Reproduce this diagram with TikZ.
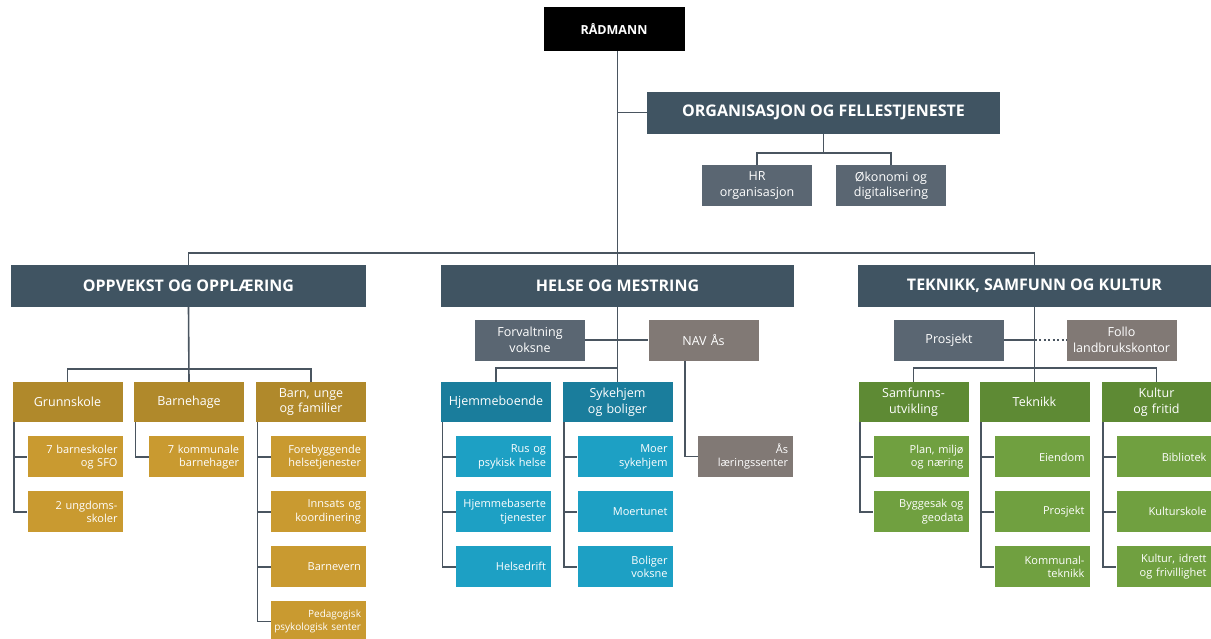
\documentclass[tikz,border=0pt]{standalone}
\usepackage{fontspec}
\setmainfont{Open Sans}
\usetikzlibrary{positioning}

\definecolor{slate}{HTML}{405462}
\definecolor{staffgrey}{HTML}{5A6672}
\definecolor{taupe}{HTML}{817975}
\definecolor{golddark}{HTML}{B0892B}
\definecolor{goldlight}{HTML}{C99A30}
\definecolor{tealdark}{HTML}{1A7D9C}
\definecolor{teallight}{HTML}{1DA0C4}
\definecolor{greendark}{HTML}{5E8A34}
\definecolor{greenlight}{HTML}{70A040}
\definecolor{wire}{HTML}{4A5560}

\begin{document}
\begin{tikzpicture}[x=1pt, y=-1pt, node distance=13.5pt,
    wire/.style={draw=wire, line width=1.6pt},
    box/.style={text=white, inner sep=0pt, align=center},
    chief/.style={box, fill=black, minimum width=141, minimum height=44,
      font=\bfseries\fontsize{12.5}{15}\selectfont},
    sector/.style={box, fill=slate, minimum width=353, minimum height=42,
      font=\bfseries\fontsize{16}{19}\selectfont},
    staff/.style={box, fill=staffgrey, minimum width=110, minimum height=41,
      text width=104, font=\fontsize{12.5}{15.5}\selectfont},
    partner/.style={staff, fill=taupe},
    unit/.style={box, minimum width=110, minimum height=40, text width=104,
      font=\fontsize{12.5}{15.5}\selectfont},
    subunit/.style={box, align=right, minimum width=95, minimum height=41,
      text width=85, font=\fontsize{11}{13.5}\selectfont},
  ]
  \useasboundingbox (0,0) rectangle (1211,638);

  % top
  \node (rad) [chief] at (614,29) {RÅDMANN};
  \node (org) [sector] at (823.5,112.5) {ORGANISASJON OG FELLESTJENESTE};
  \node (hr) [staff] at (757,185.5) {HR\\organisasjon};
  \node (oko) [staff] at (891,185.5) {Økonomi og\\digitalisering};

  % sectors
  \node (opp) [sector, minimum width=355] at (188.5,286) {OPPVEKST OG OPPLÆRING};
  \node (hel) [sector] at (617.5,286) {HELSE OG MESTRING};
  \node (tek) [sector] at (1034.5,286) {TEKNIKK, SAMFUNN OG KULTUR};

  % oppvekst og opplaering
  \node (grunn) [unit, fill=golddark] at (67.5,402) {Grunnskole};
  \node (bhage) [unit, fill=golddark] at (189,402) {Barnehage};
  \node (barn) [unit, fill=golddark] at (311,402) {Barn, unge\\og familier};
  \node (grunn1) [subunit, fill=goldlight, below=14pt of grunn.south east, anchor=north east] {7 barneskoler\\og SFO};
  \node (grunn2) [subunit, fill=goldlight, below=of grunn1] {2 ungdoms-\\skoler};
  \node (bhage1) [subunit, fill=goldlight, below=14pt of bhage.south east, anchor=north east] {7 kommunale\\barnehager};
  \node (barn1) [subunit, fill=goldlight, below=14pt of barn.south east, anchor=north east] {Forebyggende\\helsetjenester};
  \node (barn2) [subunit, fill=goldlight, below=of barn1] {Innsats og\\koordinering};
  \node (barn3) [subunit, fill=goldlight, below=of barn2] {Barnevern};
  \node (barn4) [subunit, fill=goldlight, below=of barn3, font=\fontsize{10}{13}\selectfont] {Pedagogisk\\\makebox[\linewidth][r]{psykologisk senter}};

  % helse og mestring
  \node (forv) [staff] at (530,340) {Forvaltning\\voksne};
  \node (nav) [partner] at (703.5,340) {NAV Ås};
  \node (hjem) [unit, fill=tealdark] at (496,402) {Hjemmeboende};
  \node (syk) [unit, fill=tealdark] at (617.5,402) {Sykehjem\\og boliger};
  \node (hjem1) [subunit, fill=teallight, below=14pt of hjem.south east, anchor=north east] {Rus og\\psykisk helse};
  \node (hjem2) [subunit, fill=teallight, below=of hjem1] {Hjemmebaserte\\tjenester};
  \node (hjem3) [subunit, fill=teallight, below=of hjem2] {Helsedrift};
  \node (syk1) [subunit, fill=teallight, below=14pt of syk.south east, anchor=north east] {Moer\\sykehjem};
  \node (syk2) [subunit, fill=teallight, below=of syk1] {Moertunet};
  \node (syk3) [subunit, fill=teallight, below=of syk2] {Boliger\\voksne};
  \node (aas) [subunit, fill=taupe] at (745.5,456.5) {Ås\\læringssenter};

  % teknikk, samfunn og kultur
  \node (prosj) [staff] at (949,340) {Prosjekt};
  \node (follo) [partner] at (1121.5,340) {Follo\\landbrukskontor};
  \node (samf) [unit, fill=greendark] at (913.5,402) {Samfunns-\\utvikling};
  \node (tekn) [unit, fill=greendark] at (1034.5,402) {Teknikk};
  \node (kult) [unit, fill=greendark] at (1156.5,402) {Kultur\\og fritid};
  \node (samf1) [subunit, fill=greenlight, below=14pt of samf.south east, anchor=north east] {Plan, miljø\\og næring};
  \node (samf2) [subunit, fill=greenlight, below=of samf1] {Byggesak og\\geodata};
  \node (tekn1) [subunit, fill=greenlight, below=14pt of tekn.south east, anchor=north east] {Eiendom};
  \node (tekn2) [subunit, fill=greenlight, below=of tekn1] {Prosjekt};
  \node (tekn3) [subunit, fill=greenlight, below=of tekn2] {Kommunal-\\teknikk};
  \node (kult1) [subunit, fill=greenlight, below=14pt of kult.south east, anchor=north east] {Bibliotek};
  \node (kult2) [subunit, fill=greenlight, below=of kult1] {Kulturskole};
  \node (kult3) [subunit, fill=greenlight, below=of kult2] {Kultur, idrett\\og frivillighet};

  \coordinate (bar) at (617.5,253);
  \coordinate (orgbar) at (823.5,153);
  \coordinate (oppbar) at (189,369);
  \coordinate (helbar) at (617.5,368);
  \coordinate (tekbar) at (1034.5,368);

  % connectors
  \draw[wire] (hel.north |- rad.south) -- (hel.north);
  \draw[wire] (hel.north |- org.west) -- (org.west);
  \draw[wire] (opp.north) |- (bar) -| (tek.north);
  \draw[wire] (org.south) -- (orgbar);
  \draw[wire] (hr.north) |- (orgbar) -| (oko.north);

  \draw[wire] (opp.south) -- (bhage.north);
  \draw[wire] (grunn.north) |- (oppbar) -| (barn.north);
  \draw[wire] ([xshift=1.5pt]grunn.south west) |- (grunn1.west);
  \draw[wire] ([xshift=1.5pt]grunn.south west) |- (grunn2.west);
  \draw[wire] ([xshift=1.5pt]bhage.south west) |- (bhage1.west);
  \draw[wire] ([xshift=1.5pt]barn.south west) |- (barn1.west);
  \draw[wire] ([xshift=1.5pt]barn.south west) |- (barn2.west);
  \draw[wire] ([xshift=1.5pt]barn.south west) |- (barn3.west);
  \draw[wire] ([xshift=1.5pt]barn.south west) |- (barn4.west);

  \draw[wire] (forv.east) -- (nav.west);
  \draw[wire] (hel.south) -- (syk.north);
  \draw[wire] (hjem.north) |- (helbar);
  \draw[wire] ([xshift=-18.5pt]nav.south) |- (aas.west);
  \draw[wire] ([xshift=1.5pt]hjem.south west) |- (hjem1.west);
  \draw[wire] ([xshift=1.5pt]hjem.south west) |- (hjem2.west);
  \draw[wire] ([xshift=1.5pt]hjem.south west) |- (hjem3.west);
  \draw[wire] ([xshift=1.5pt]syk.south west) |- (syk1.west);
  \draw[wire] ([xshift=1.5pt]syk.south west) |- (syk2.west);
  \draw[wire] ([xshift=1.5pt]syk.south west) |- (syk3.west);

  \draw[wire] (prosj.east) -- (prosj.east -| tek.south);
  \draw[wire, dash pattern=on 2pt off 2.5pt] (prosj.east -| tek.south) -- (follo.west);
  \draw[wire] (tek.south) -- (tekn.north);
  \draw[wire] (samf.north) |- (tekbar) -| (kult.north);
  \draw[wire] ([xshift=1.5pt]samf.south west) |- (samf1.west);
  \draw[wire] ([xshift=1.5pt]samf.south west) |- (samf2.west);
  \draw[wire] ([xshift=1.5pt]tekn.south west) |- (tekn1.west);
  \draw[wire] ([xshift=1.5pt]tekn.south west) |- (tekn2.west);
  \draw[wire] ([xshift=1.5pt]tekn.south west) |- (tekn3.west);
  \draw[wire] ([xshift=1.5pt]kult.south west) |- (kult1.west);
  \draw[wire] ([xshift=1.5pt]kult.south west) |- (kult2.west);
  \draw[wire] ([xshift=1.5pt]kult.south west) |- (kult3.west);

\end{tikzpicture}
\end{document}
